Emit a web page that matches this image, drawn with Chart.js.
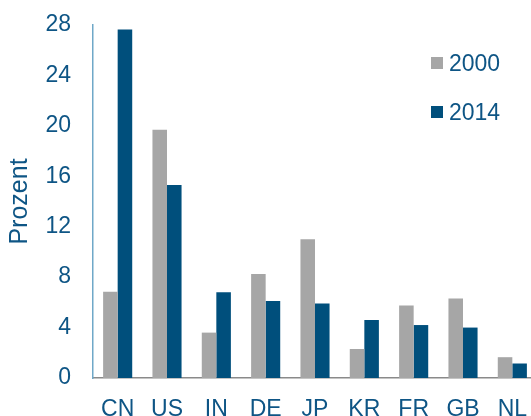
<!DOCTYPE html>
<html>
<head>
<meta charset="utf-8">
<script src="https://cdn.jsdelivr.net/npm/chart.js@4/dist/chart.umd.min.js"></script>
<style>
    body { margin: 0; background: #fff; overflow: hidden; }
    #wrap { position: relative; width: 531px; height: 416px; overflow: hidden; }
    #legend { position: absolute; left: 431px; top: 50px; font: 23px 'Liberation Sans', Arial, sans-serif; color: #0E5585; }
    .item { display: flex; align-items: center; height: 26px; margin-bottom: 23px; }
    .box { width: 12px; height: 12px; margin-right: 6px; }
</style>
</head>
<body>
<div id="wrap">
    <!-- plot runs slightly past the right edge, as in the reference -->
    <canvas id="chart" width="537" height="416"></canvas>
    <div id="legend"></div>
</div>
<script>
// ── Data ──
const countries = ['CN', 'US', 'IN', 'DE', 'JP', 'KR', 'FR', 'GB', 'NL'];
const share2000 = [6.85, 19.7, 3.6, 8.25, 11.0, 2.3, 5.75, 6.3, 1.65];
const share2014 = [27.65, 15.3, 6.8, 6.1, 5.9, 4.6, 4.2, 4.0, 1.15];
const yTicks = [0, 4, 8, 12, 16, 20, 24, 28];

const textColor = '#0E5585';
const font = "'Liberation Sans', Arial, sans-serif";

const chart = new Chart(document.getElementById('chart'), {
    type: 'bar',
    data: {
        labels: countries,
        datasets: [
            { label: '2000', data: share2000, backgroundColor: '#A6A6A6' },
            { label: '2014', data: share2014, backgroundColor: '#004F7C' }
        ]
    },
    options: {
        responsive: false,
        animation: false,
        datasets: { bar: { categoryPercentage: 0.59, barPercentage: 1.0 } },
        layout: { padding: { top: 25, right: 0, left: 0, bottom: 0 } },
        plugins: { legend: { display: false }, tooltip: { enabled: false } },
        scales: {
            x: {
                grid: { display: false, drawTicks: false },
                border: { display: true, color: '#8A8A8A', width: 1.5 },
                ticks: { color: textColor, font: { size: 23, family: font }, padding: 18 },
                afterFit: s => { s.height = 38; s.paddingLeft = 0; s.paddingRight = 0; }
            },
            y: {
                min: 0,
                max: 28,
                afterBuildTicks: s => { s.ticks = yTicks.map(v => ({ value: v })); },
                grid: { display: false, drawTicks: false },
                border: { display: true, color: '#6FA8C8', width: 1.5 },
                ticks: { color: textColor, font: { size: 23, family: font }, padding: 22 },
                title: {
                    display: true,
                    text: 'Prozent',
                    color: textColor,
                    font: { size: 25, family: font },
                    padding: { top: 5, bottom: 0 }
                },
                afterFit: s => { s.width = 93; s.paddingTop = 0; s.paddingBottom = 0; }
            }
        }
    }
});

// ── HTML legend built from the datasets ──
document.getElementById('legend').innerHTML = chart.data.datasets.map(d => `
    <div class="item"><span class="box" style="background:${d.backgroundColor}"></span>${d.label}</div>
`).join('');
</script>
</body>
</html>
